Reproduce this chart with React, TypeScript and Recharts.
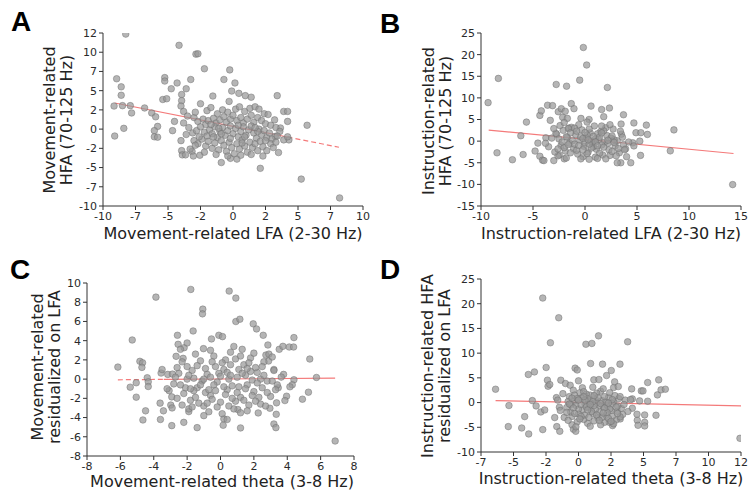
import { ScatterChart, Scatter, XAxis, YAxis, ReferenceLine } from "recharts";

// ---- data ----
const ticksA_x = [-10, -7.5, -5, -2.5, 0, 2.5, 5, 7.5, 10];
const ticksA_y = [-10, -7.5, -5, -2.5, 0, 2.5, 5, 7.5, 10, 12.5];
const ticksB_x = [-10, -5, 0, 5, 10, 15];
const ticksB_y = [-15, -10, -5, 0, 5, 10, 15, 20, 25];
const ticksC_x = [-8, -6, -4, -2, 0, 2, 4, 6, 8];
const ticksC_y = [-8, -6, -4, -2, 0, 2, 4, 6, 8, 10];
const ticksD_x = [-7.5, -5, -2.5, 0, 2.5, 5, 7.5, 10, 12.5];
const ticksD_y = [-10, -5, 0, 5, 10, 15, 20, 25];

const pointsA: number[][] = [
  [-8.25, 12.36], [-9.1, -0.9], [-8.95, 6.55], [-9.15, 3.0], [-8.6, 5.5], [-8.6, 4.4], [-8.5, 3.05], [-8.4, 0.1],
  [-7.9, 3.05], [-7.8, 2.1], [-6.8, 2.75], [-6.25, 2.1], [-5.95, 1.6], [-5.8, 0.35], [-6.05, -0.2], [-6.05, -1.0],
  [-5.8, -1.05], [-5.25, 6.7], [-5.25, 6.25], [-5.4, 3.85], [-5.1, 3.95], [-4.75, 5.25], [-4.65, -0.2], [-4.3, 6.0],
  [-4.15, 10.9], [-3.95, 4.5], [-3.95, 3.7], [-4.0, 3.0], [-3.95, -2.8], [-3.9, -3.35], [-3.8, 2.3], [-3.6, 5.25],
  [-3.65, -3.35], [-3.25, 6.45], [-3.15, -2.9], [-3.05, -3.5], [-2.85, 9.75], [-2.7, 9.8], [-2.55, -3.4], [-2.2, 7.85],
  [-1.55, 4.3], [-0.9, -4.35], [-0.7, 6.45], [-0.25, 7.7], [0.15, 6.0], [-0.1, 4.95], [-0.3, 3.6], [0.3, -3.9],
  [-0.2, -3.8], [0.45, 4.65], [0.95, 4.35], [1.4, 4.15], [2.1, -5.1], [3.4, 4.35], [3.9, 2.3], [4.2, 2.3],
  [4.2, 1.0], [4.3, -1.4], [5.7, 0.5], [5.25, -6.5], [8.2, -8.95], [3.5, -3.05], [3.65, 0.15], [3.25, -0.95],
  [-2.5, 3.3], [-2.0, 2.4], [-1.7, 2.8], [-1.2, 2.0], [-0.8, 2.5], [-0.4, 2.2], [0.2, 2.6], [0.5, 2.9],
  [0.9, 2.3], [1.3, 2.7], [1.7, 2.9], [2.0, 2.6], [2.4, 2.0], [2.7, 1.9], [3.2, 1.2], [-3.0, 1.5],
  [-2.7, 1.0], [-2.3, 1.3], [-2.1, 0.6], [-1.9, 1.1], [-1.5, 1.4], [-1.3, 0.8], [-1.0, 1.2], [-0.7, 1.6],
  [-0.5, 0.9], [-0.2, 1.3], [0.0, 1.8], [0.3, 1.1], [0.6, 1.5], [0.8, 0.8], [1.1, 1.3], [1.4, 1.8],
  [1.6, 0.9], [1.9, 1.5], [2.2, 1.1], [2.5, 0.7], [2.9, 0.5], [3.3, 0.2], [3.6, -0.3], [-3.4, 0.2],
  [-3.1, -0.5], [-2.8, -0.2], [-2.5, 0.3], [-2.2, -0.4], [-2.0, -0.9], [-1.8, -0.1], [-1.6, -0.6], [-1.4, 0.3],
  [-1.2, -1.1], [-1.0, -0.3], [-0.8, 0.2], [-0.6, -0.8], [-0.4, -0.2], [-0.2, 0.4], [0.0, -0.6], [0.2, 0.1],
  [0.4, -1.0], [0.6, -0.3], [0.8, 0.3], [1.0, -0.8], [1.2, -0.1], [1.4, 0.4], [1.6, -0.5], [1.8, -1.2],
  [2.0, 0.0], [2.2, -0.7], [2.4, -0.2], [2.6, -1.1], [2.8, -0.5], [3.0, -1.3], [3.4, -0.9], [3.9, -1.4],
  [4.2, -1.0], [-3.0, -1.5], [-2.7, -1.9], [-2.4, -1.3], [-2.1, -2.2], [-1.9, -1.6], [-1.6, -2.5], [-1.4, -1.8],
  [-1.1, -2.7], [-0.9, -1.5], [-0.7, -2.1], [-0.5, -2.9], [-0.3, -1.7], [-0.1, -2.4], [0.1, -3.2], [0.3, -1.9],
  [0.5, -2.6], [0.7, -1.4], [0.9, -2.2], [1.1, -3.0], [1.3, -1.7], [1.5, -2.4], [1.7, -1.9], [1.9, -2.8],
  [2.1, -1.6], [2.3, -2.3], [2.6, -2.8], [2.9, -1.9], [3.1, -2.4], [3.3, -1.7], [-3.3, -2.6], [-2.9, -2.1],
  [-2.2, -3.0], [-1.3, -3.3], [-0.4, -3.5], [0.6, -3.4], [1.4, -3.3], [2.3, -3.5], [-1.5, -1.0], [-0.2, -1.2],
  [0.9, -1.0], [1.9, -0.3], [-2.6, -1.0], [-3.6, -0.7], [-3.8, 0.8], [-4.0, -1.5], [-4.5, 1.0], [-3.5, 1.7],
  [-2.9, 2.2], [-1.1, 0.1], [0.4, 0.5], [1.7, 0.2], [-0.9, -0.6], [0.7, -1.8], [2.5, -1.5], [-1.7, 0.6],
];

const pointsB: number[][] = [
  [-9.32, 8.9], [-8.33, 14.5], [-8.46, -2.7], [-6.98, -4.3], [-6.17, 1.24], [-5.95, -3.1], [-5.63, 4.4], [-4.8, -2.3],
  [-4.53, -0.46], [-4.34, 5.95], [-4.2, 7.0], [-4.34, -3.5], [-4.08, -4.4], [-3.95, -4.5], [-3.76, 0.77], [-3.6, 8.3],
  [-3.34, 4.8], [-3.12, 8.2], [-3.0, -4.5], [-2.77, 13.1], [-2.73, 1.55], [-2.57, 6.8], [-2.48, -3.2], [-2.28, 7.5],
  [-2.15, 5.5], [-1.99, -4.1], [-1.77, 12.7], [-1.9, 6.9], [-1.7, 5.25], [-1.54, 3.0], [-1.32, 8.66], [-1.06, 7.5],
  [-0.51, 14.1], [-0.39, 5.25], [-0.16, 21.65], [0.16, 17.6], [0.58, 8.1], [0.39, 5.0], [1.6, 7.3], [1.8, 5.65],
  [2.15, 12.4], [2.35, 7.65], [3.47, 3.95], [3.7, 6.1], [3.44, -5.0], [4.4, -5.0], [4.7, 4.2], [4.9, 1.95],
  [5.37, 1.95], [5.27, 0.0], [5.34, -3.3], [5.9, 3.7], [6.0, 1.55], [8.2, -2.25], [8.55, 2.6], [14.2, -10.05],
  [4.6, -0.4], [4.7, -1.1], [4.0, -3.6], [3.1, -5.0], [3.9, -1.8],
  [-2.8, 1.8], [-2.5, 0.5], [-2.3, -1.0], [-2.1, 2.5], [-1.9, -2.3], [-1.7, 0.9], [-1.5, -0.5], [-1.3, 3.2],
  [-1.1, -1.8], [-0.9, 1.5], [-0.7, -3.0], [-0.5, 0.2], [-0.3, 2.6], [-0.1, -1.2], [0.1, 0.8], [0.3, -2.5],
  [0.5, 1.9], [0.7, -0.6], [0.9, 3.5], [1.1, -1.9], [1.3, 0.4], [1.5, 2.2], [1.7, -3.2], [1.9, -0.2],
  [2.1, 1.3], [2.3, -2.0], [2.5, 0.7], [2.7, 2.8], [2.9, -1.1], [3.1, 0.1], [3.3, -2.7], [3.5, 1.6],
  [3.7, -0.8], [-2.6, -3.4], [-2.0, -1.5], [-1.6, 2.9], [-1.2, 0.1], [-0.8, -2.1], [-0.4, 1.0], [0.0, -0.4],
  [0.4, 2.8], [0.8, -1.3], [1.2, 1.7], [1.6, -0.9], [2.0, 3.1], [2.4, -3.3], [2.8, 0.3], [3.2, -1.7],
  [-3.2, 0.7], [-3.5, -1.3], [-2.9, -2.5], [-2.4, 3.6], [-1.8, -3.9], [-1.4, 1.9], [-1.0, -0.7], [-0.6, 3.8],
  [-0.2, -3.6], [0.2, 1.4], [0.6, -1.6], [1.0, 0.5], [1.4, -2.8], [1.8, 2.4], [2.2, -0.5], [2.6, 1.2],
  [3.0, -3.4], [3.4, 2.3], [3.8, -2.0], [-2.2, -0.2], [-1.4, -2.7], [-0.6, -1.0], [0.2, -2.9], [1.0, -3.7],
  [1.8, -1.4], [2.6, -2.4], [-0.2, 0.6], [0.6, 0.0], [1.4, 0.9], [2.2, 0.2], [0.0, 2.0], [0.8, 1.1],
  [-1.8, 1.0], [-2.6, -1.8], [0.4, -4.2], [1.2, -4.0], [-0.4, -4.1], [2.0, -4.1], [-1.0, 3.0], [3.6, 0.9],
  [4.2, -0.2], [-3.8, -0.5], [-3.0, 2.9], [-2.0, 4.3], [0.2, 4.4], [1.6, 3.5], [2.4, 3.8], [-0.8, 2.3],
  [0.4, -0.7], [1.0, -0.2], [-0.2, -2.0], [1.6, 1.9], [2.8, -0.3], [-1.6, -0.8], [0.3, 0.3], [1.2, -1.1],
];

const pointsC: number[][] = [
  [-6.15, 1.25], [-5.41, -0.84], [-5.29, 4.07], [-5.05, -0.38], [-5.05, -1.88], [-4.83, 1.85], [-4.67, 1.7], [-4.71, 1.22],
  [-4.65, -4.25], [-4.49, -3.3], [-4.39, 0.14], [-4.33, -0.28], [-4.33, -0.77], [-3.87, 8.53], [-3.62, -2.5], [-3.6, -4.2],
  [-3.56, 0.63], [-3.42, -3.3], [-3.16, 0.49], [-2.98, -2.7], [-2.92, -4.84], [-2.88, 0.52], [-2.92, -1.85], [-3.08, -1.2],
  [-2.66, 2.37], [-2.58, 4.56], [-2.54, 3.62], [-2.2, -4.5], [-2.24, 2.16], [-2.18, 3.27], [-2.0, 3.76], [-1.9, -3.38],
  [-1.78, 9.33], [-1.64, 5.01], [-1.4, -5.05], [-1.06, 7.28], [-1.08, 6.79], [-1.02, 3.17], [-0.54, 4.18], [-0.1, 4.56],
  [0.12, 4.42], [0.2, -4.14], [0.16, -4.8], [0.52, 9.16], [0.92, 8.43], [0.92, 5.99], [1.16, 6.23], [1.2, -5.08],
  [1.04, -3.17], [1.96, 5.75], [2.16, 5.22], [2.26, -3.52], [2.56, 4.56], [2.96, -3.03], [3.2, -4.67], [3.32, -5.05],
  [3.34, -3.66], [3.36, -2.47], [3.52, 3.1], [3.74, 3.41], [3.78, 0.49], [4.12, 3.34], [4.4, 4.32], [4.38, 3.34],
  [4.4, -0.07], [4.3, -0.59], [4.16, -0.8], [3.96, -1.78], [3.86, -2.23], [4.91, -2.09], [5.27, -1.36], [5.35, 2.09],
  [5.75, 0.17], [6.87, -6.44], [2.84, 3.55], [2.72, 2.5], [2.88, 1.88], [3.2, 1.0], [3.64, 0.21], [3.46, -0.9],
  [-2.8, -0.5], [-2.5, 0.6], [-2.2, -1.5], [-2.0, 1.3], [-1.8, -2.2], [-1.6, 0.1], [-1.4, -0.9], [-1.2, 1.9],
  [-1.0, -2.8], [-0.8, 0.5], [-0.6, -1.7], [-0.4, 2.4], [-0.2, -0.3], [0.0, -2.4], [0.2, 1.0], [0.4, -1.1],
  [0.6, 2.8], [0.8, -3.1], [1.0, 0.2], [1.2, -1.9], [1.4, 1.5], [1.6, -0.6], [1.8, 2.2], [2.0, -1.3],
  [2.2, 0.7], [2.4, -2.6], [2.6, 1.8], [2.8, -0.2], [3.0, -1.8], [3.2, 0.9], [-2.6, -2.0], [-2.3, 1.8],
  [-1.9, -3.1], [-1.5, 2.6], [-1.1, -0.2], [-0.7, -3.4], [-0.3, 1.3], [0.1, -3.6], [0.5, 0.0], [0.9, -2.3],
  [1.3, 3.1], [1.7, -2.7], [2.1, 1.2], [2.5, -0.9], [2.9, 2.6], [-0.9, -1.4], [-0.1, 0.6], [0.7, -0.7],
  [1.5, 0.4], [2.3, -1.9], [-1.7, 0.9], [-2.1, -0.9], [0.3, 2.0], [1.1, 1.0], [1.9, -0.1], [-1.3, -2.5],
  [-0.5, -2.1], [0.3, -1.6], [1.1, -0.8], [-3.2, -1.0], [-3.5, 1.0], [-2.4, 3.1], [0.8, 3.4], [-0.6, 3.0],
  [2.0, 2.7], [1.6, -3.3], [-1.0, -3.8], [0.4, -4.2], [-2.9, -3.0], [2.7, -2.8], [3.4, -0.6], [3.1, 2.3],
  [-1.6, -1.2], [0.6, 1.5], [1.8, 0.8], [-0.4, -0.6], [2.4, 0.0], [0.0, 0.3], [-2.0, 0.0], [1.2, -3.5],
  [-2.7, 0.2], [-2.4, -0.6], [-1.9, 0.4], [-1.5, -1.9], [-1.2, -0.6], [-0.9, 1.1], [-0.6, 0.2], [-0.3, -1.2],
  [0.1, 1.7], [0.4, 0.7], [0.7, -2.0], [1.0, -1.4], [1.3, 0.6], [1.6, 1.1], [1.9, -1.7], [2.2, -0.4],
  [2.5, 1.3], [2.8, -1.4], [3.1, -0.2], [-2.3, -2.7], [-1.7, -2.9], [-0.8, -2.5], [-0.2, -2.9], [0.5, -2.8],
  [1.4, -2.2], [2.1, -2.3], [-1.4, 1.4], [-0.5, 1.8], [0.9, 2.1], [1.7, 1.7], [2.6, 0.4], [0.2, -0.8],
  [-1.0, 0.0], [1.5, -1.0], [-2.6, 1.2], [3.3, -1.1], [-0.7, -1.1], [0.6, 0.4], [1.2, 2.4], [-1.8, -1.0],
];

const pointsD: number[][] = [
  [-6.38, 2.7], [-5.4, -4.86], [-5.35, -0.6], [-4.37, -5.14], [-4.14, -2.84], [-3.83, -6.35], [-3.86, 5.68], [-3.55, 0.4],
  [-3.39, 6.2], [-3.26, -0.68], [-2.9, -1.9], [-2.75, -5.47], [-2.75, 21.15], [-2.6, -1.5], [-2.49, 7.1], [-2.39, 4.53],
  [-2.34, 3.3], [-2.21, 3.65], [-2.16, 12.1], [-1.7, 1.0], [-1.83, -3.04], [-1.67, -4.86], [-1.52, 17.16], [-1.44, -5.81],
  [-1.36, 4.53], [-1.47, -0.95], [-1.0, 3.85], [-0.64, 3.5], [-0.39, -5.4], [-0.21, -5.81], [-0.26, 6.96], [-0.1, 6.6],
  [0.0, 4.4], [0.57, 11.8], [1.03, 11.96], [0.93, 7.9], [1.18, 4.6], [1.54, 13.5], [1.57, 4.66], [1.85, 7.77],
  [2.16, 5.47], [2.52, 6.49], [2.7, 3.04], [2.78, 4.19], [3.19, 7.77], [3.06, 3.24], [3.78, 12.3], [4.09, 2.77],
  [4.14, 0.74], [4.52, -3.58], [4.58, -4.6], [4.83, 2.36], [4.96, 2.36], [5.09, -2.5], [5.09, -3.99], [5.09, -4.73],
  [5.32, 0.27], [5.32, 4.05], [4.7, 0.34], [5.96, -2.57], [6.07, 1.55], [6.17, 4.6], [6.35, 2.57], [6.68, 2.7],
  [12.42, -7.23], [2.62, -4.66], [2.37, -3.99], [3.21, -3.31], [2.98, -1.76], [4.14, -1.15], [4.5, -2.36],
  [-0.9, -1.0], [-0.7, 1.2], [-0.5, -2.8], [-0.3, 0.3], [-0.1, -3.9], [0.1, 2.0], [0.3, -1.5], [0.5, -0.3],
  [0.7, -4.2], [0.9, 1.5], [1.1, -2.2], [1.3, 0.6], [1.5, -3.1], [1.7, 2.3], [1.9, -0.8], [2.1, -2.6],
  [2.3, 1.0], [2.5, -1.6], [2.7, 0.1], [2.9, -3.5], [3.1, 0.8], [3.3, -1.2], [-0.8, 0.2], [-0.6, -1.9],
  [-0.4, 2.5], [-0.2, -0.6], [0.0, -2.3], [0.2, 0.9], [0.4, -3.4], [0.6, 1.7], [0.8, -1.1], [1.0, -0.2],
  [1.2, -3.7], [1.4, 1.9], [1.6, -1.9], [1.8, 0.4], [2.0, -4.0], [2.2, -0.5], [2.4, 2.0], [2.6, -2.8],
  [2.8, 1.4], [3.0, -0.7], [3.4, -2.4], [3.6, 0.5], [-1.1, -3.0], [-1.2, 1.8], [-0.5, -4.5], [0.3, 3.0],
  [1.1, 3.1], [1.9, 2.8], [2.7, -4.3], [0.0, -1.3], [0.8, 0.3], [1.6, -0.6], [2.4, -1.3], [-0.3, 1.5],
  [0.5, -2.5], [1.3, -1.4], [2.1, 0.1], [0.2, -0.4], [1.0, -1.8], [1.8, -3.0], [-0.9, -2.0], [0.6, -0.9],
  [1.4, 0.0], [2.2, -2.0], [3.2, -2.9], [-1.4, -1.6], [-1.6, 0.5], [3.8, -1.8], [4.0, 0.6], [0.9, -4.8],
  [-0.2, -4.9], [1.7, -4.5], [0.4, 2.2], [1.2, -0.6], [2.0, 1.2], [-0.6, -0.4], [0.7, 0.8], [2.6, -0.2],
  [-0.7, -0.3], [-0.4, -1.1], [-0.1, 0.8], [0.2, -2.8], [0.5, 0.5], [0.8, -3.0], [1.1, 0.2], [1.4, -2.5],
  [1.7, -0.2], [2.0, -1.1], [2.3, -3.2], [2.6, 0.6], [2.9, -0.9], [3.2, 1.2], [-0.8, -3.6], [0.1, -3.3],
  [0.9, -0.4], [1.5, 1.0], [2.3, -0.1], [3.0, -2.2], [0.4, 1.2], [1.2, 1.4], [-0.3, -2.2], [1.9, -2.1],
  [0.7, -1.5], [1.6, -3.6], [2.5, -3.8], [-0.5, 0.9], [3.5, -0.4], [0.0, 0.5],
];

// fitted lines: [x1, y1, x2, y2]
const fitA_solid = [-9.1, 3.4, 4.2, -1.03];
const fitA_dash = [4.2, -1.03, 8.15, -2.36];
const fitB = [-9.26, 2.55, 14.28, -2.86];
const fitC_dash = [-6.15, -0.07, -3.4, -0.03];
const fitC_solid = [-3.4, -0.03, 6.87, 0.1];
const fitD = [-6.38, 0.4, 12.5, -0.68];

const FONT = "'DejaVu Sans', sans-serif";
const RED = "#f47a7a";

const Dot = (props: any) => (
  <circle
    cx={props.cx}
    cy={props.cy}
    r={3.3}
    fill="#999"
    fillOpacity={0.72}
    stroke="#6e6e6e"
    strokeOpacity={0.8}
    strokeWidth={0.6}
  />
);

function Panel(props: any) {
  const { left, top, margin, points, xDomain, yDomain, xTicks, yTicks, lines } = props;
  const data = points.map((p: number[]) => ({ x: p[0], y: p[1] }));
  const tickStyle = { fontSize: 11, fill: "#2a2a2a", fontFamily: FONT };
  return (
    <div style={{ position: "absolute", left, top }}>
      <ScatterChart width={374} height={245} margin={margin}>
        <XAxis
          type="number"
          dataKey="x"
          domain={xDomain}
          ticks={xTicks}
          tickFormatter={(v: number) => String(Math.trunc(v))}
          allowDataOverflow
          height={20}
          tickSize={4}
          tick={tickStyle}
          stroke="#333"
          interval={0}
        />
        <YAxis
          type="number"
          dataKey="y"
          domain={yDomain}
          ticks={yTicks}
          tickFormatter={(v: number) => String(Math.trunc(v))}
          allowDataOverflow
          width={40}
          tickSize={4}
          tick={tickStyle}
          stroke="#333"
          interval={0}
        />
        <Scatter data={data} shape={Dot} isAnimationActive={false} />
        {lines.map((l: any, i: number) => (
          <ReferenceLine
            key={i}
            segment={[
              { x: l.seg[0], y: l.seg[1] },
              { x: l.seg[2], y: l.seg[3] },
            ]}
            stroke={RED}
            strokeWidth={1.2}
            strokeDasharray={l.dash ? "5 3" : undefined}
            ifOverflow="visible"
          />
        ))}
      </ScatterChart>
    </div>
  );
}

const letterStyle: any = {
  position: "absolute",
  fontFamily: "'Liberation Sans', Arial, sans-serif",
  fontWeight: "bold",
  fontSize: 28,
  lineHeight: "28px",
  color: "#000",
};

function XTitle({ cx, cy, text }: any) {
  return (
    <div
      style={{
        position: "absolute",
        left: cx - 200,
        top: cy - 8,
        width: 400,
        textAlign: "center",
        fontFamily: FONT,
        fontSize: 16,
        lineHeight: "16px",
        color: "#222",
        whiteSpace: "nowrap",
      }}
    >
      {text}
    </div>
  );
}

function YTitle({ cx, cy, lines }: any) {
  return (
    <div
      style={{
        position: "absolute",
        left: cx - 110,
        top: cy - 17,
        width: 220,
        height: 34,
        transform: "rotate(-90deg)",
        textAlign: "center",
        fontFamily: FONT,
        fontSize: 16,
        lineHeight: "17px",
        color: "#222",
        whiteSpace: "nowrap",
      }}
    >
      {lines[0]}
      <br />
      {lines[1]}
    </div>
  );
}

export default function App() {
  return (
    <div style={{ position: "absolute", left: 0, top: 0, width: 748, height: 490, background: "#fff" }}>
      <Panel
        left={0}
        top={0}
        margin={{ top: 33, right: 11, bottom: 19, left: 63 }}
        points={pointsA}
        xDomain={[-10, 10]}
        yDomain={[-10, 12.5]}
        xTicks={ticksA_x}
        yTicks={ticksA_y}
        lines={[{ seg: fitA_solid }, { seg: fitA_dash, dash: true }]}
      />
      <Panel
        left={374}
        top={0}
        margin={{ top: 33, right: 7, bottom: 19, left: 67 }}
        points={pointsB}
        xDomain={[-10, 15]}
        yDomain={[-15, 25]}
        xTicks={ticksB_x}
        yTicks={ticksB_y}
        lines={[{ seg: fitB }]}
      />
      <Panel
        left={0}
        top={245}
        margin={{ top: 38, right: 20, bottom: 14, left: 47 }}
        points={pointsC}
        xDomain={[-8, 8]}
        yDomain={[-8, 10]}
        xTicks={ticksC_x}
        yTicks={ticksC_y}
        lines={[{ seg: fitC_dash, dash: true }, { seg: fitC_solid }]}
      />
      <Panel
        left={374}
        top={245}
        margin={{ top: 34, right: 7, bottom: 18, left: 67 }}
        points={pointsD}
        xDomain={[-7.5, 12.5]}
        yDomain={[-10, 25]}
        xTicks={ticksD_x}
        yTicks={ticksD_y}
        lines={[{ seg: fitD }]}
      />

      <div style={{ ...letterStyle, left: 11, top: 8 }}>A</div>
      <div style={{ ...letterStyle, left: 380, top: 10 }}>B</div>
      <div style={{ ...letterStyle, left: 10, top: 256 }}>C</div>
      <div style={{ ...letterStyle, left: 380, top: 256 }}>D</div>

      <YTitle cx={58} cy={120} lines={["Movement-related", "HFA (70-125 Hz)"]} />
      <YTitle cx={437} cy={121} lines={["Instruction-related", "HFA (70-125 Hz)"]} />
      <YTitle cx={46} cy={367} lines={["Movement-related", "residualized on LFA"]} />
      <YTitle cx={436} cy={366} lines={["Instruction-related HFA", "residualized on LFA"]} />

      <XTitle cx={233} cy={234} text="Movement-related LFA (2-30 Hz)" />
      <XTitle cx={611} cy={234} text="Instruction-related LFA (2-30 Hz)" />
      <XTitle cx={222} cy={482} text="Movement-related theta (3-8 Hz)" />
      <XTitle cx={611} cy={479} text="Instruction-related theta (3-8 Hz)" />
    </div>
  );
}
